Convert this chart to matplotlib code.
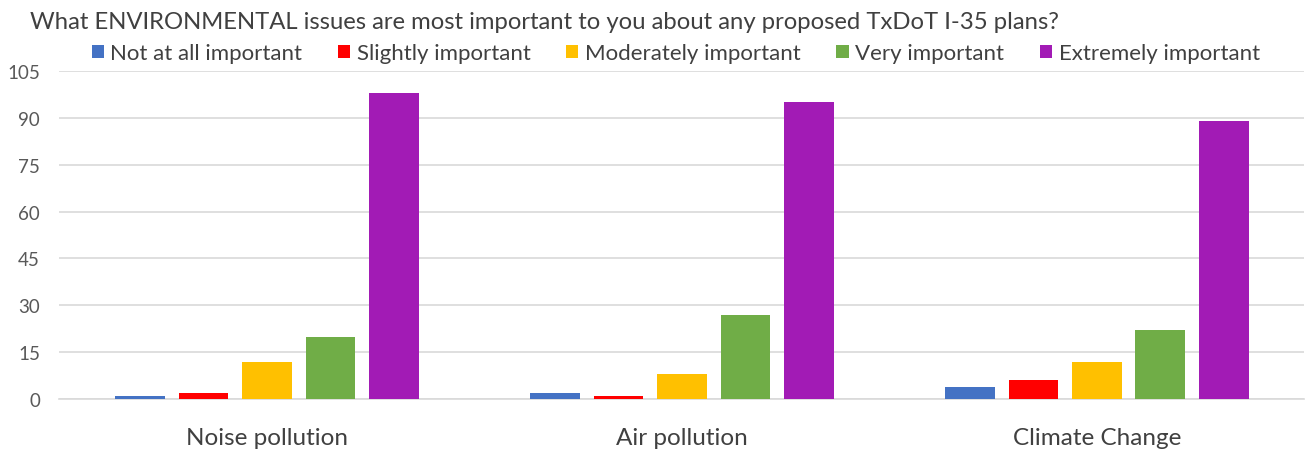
import numpy as np
import matplotlib.pyplot as plt
from matplotlib.patches import Patch

plt.rcParams['font.family'] = ['Lato', 'DejaVu Sans']

categories = ['Noise pollution', 'Air pollution', 'Climate Change']
series_names = ['Not at all important', 'Slightly important', 'Moderately important',
                'Very important', 'Extremely important']
values = [
    [1, 2, 4],     # Not at all important
    [2, 1, 6],     # Slightly important
    [12, 8, 12],   # Moderately important
    [20, 27, 22],  # Very important
    [98, 95, 89],  # Extremely important
]
colors = ['#4472C4', '#FF0000', '#FFC000', '#70AD47', '#A21BB5']
yticks = [0, 15, 30, 45, 60, 75, 90, 105]

fig = plt.figure(figsize=(13.07, 4.52), dpi=100)
ax = fig.add_axes([0.0455, 0.115, 0.9525, 0.726])

x = np.arange(len(categories))
pitch = 0.153
width = 0.12
for i, (name, vals, c) in enumerate(zip(series_names, values, colors)):
    ax.bar(x + (i - 2) * pitch, vals, width=width, color=c, label=name, zorder=3)

ax.set_xlim(-0.5, len(categories) - 0.5)
ax.set_ylim(0, 105)
ax.set_yticks(yticks)
ax.set_xticks(x)
ax.set_xticklabels(categories, fontsize=17.5, color='#404040')
ax.tick_params(axis='y', labelsize=13.5, colors='#595959', length=0, pad=14)
ax.tick_params(axis='x', length=0, pad=20)
ax.grid(axis='y', color='#D9D9D9', linewidth=1.2, zorder=0)
for side in ['top', 'right', 'left']:
    ax.spines[side].set_visible(False)
ax.spines['bottom'].set_color('#D9D9D9')
ax.spines['bottom'].set_linewidth(1.2)

fig.text(0.023, 0.95, 'What ENVIRONMENTAL issues are most important to you about any proposed TxDoT I-35 plans?',
         fontsize=17.2, color='#404040', va='center', ha='left')

handles = [Patch(facecolor=c, label=n) for n, c in zip(series_names, colors)]
fig.legend(handles=handles, loc='center', bbox_to_anchor=(0.517, 0.88), ncol=5, frameon=False,
           fontsize=16, handlelength=0.55, handleheight=0.55, handletextpad=0.3,
           columnspacing=1.6, labelcolor='#404040')

fig.savefig('out.png', dpi=100)
